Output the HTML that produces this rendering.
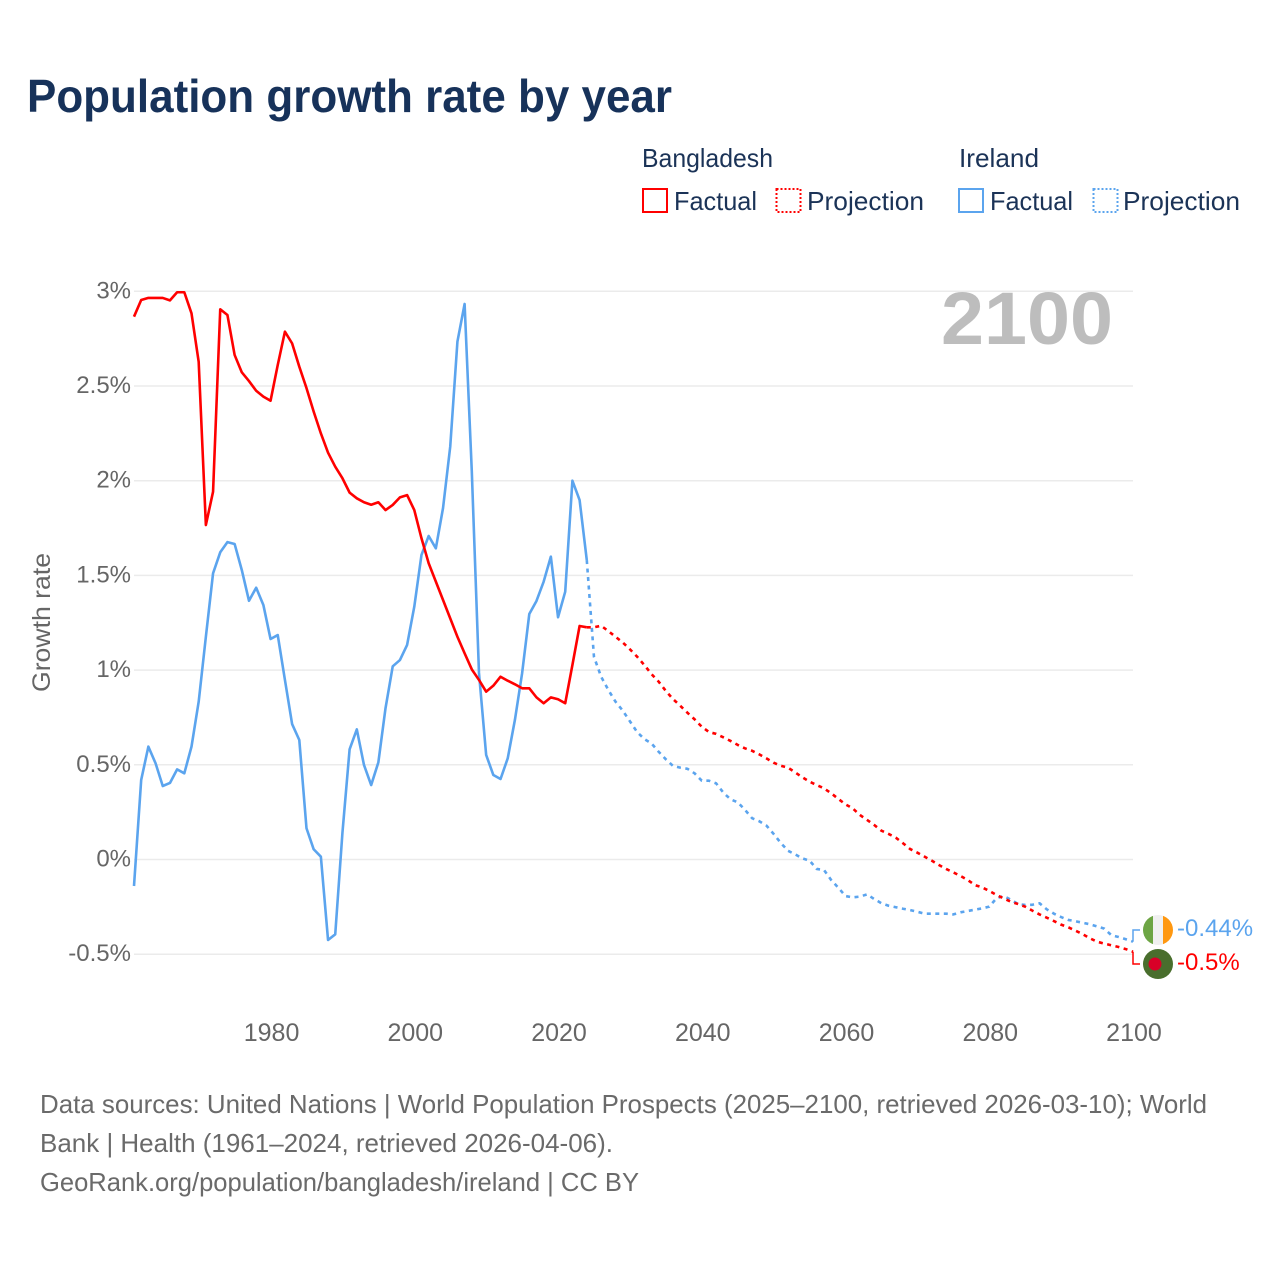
<!DOCTYPE html>
<html lang="en">
<head>
<meta charset="utf-8">
<title>Population growth rate by year</title>
<style>
html,body{margin:0;padding:0;background:#fff;width:1280px;height:1280px;overflow:hidden}
svg{display:block;font-family:"Liberation Sans",sans-serif}
</style>
</head>
<body>
<svg id="chart" width="1280" height="1280" viewBox="0 0 1280 1280" xmlns="http://www.w3.org/2000/svg">
  <rect width="1280" height="1280" fill="#fff"/>
  <text x="27" y="112" font-size="46" font-weight="700" fill="#17325a" textLength="645" lengthAdjust="spacingAndGlyphs">Population growth rate by year</text>

  <g font-size="26" fill="#1b3357">
    <text x="642" y="167" textLength="131" lengthAdjust="spacingAndGlyphs">Bangladesh</text>
    <rect x="643" y="189" width="24" height="23" fill="none" stroke="#ff0000" stroke-width="2"/>
    <text x="674" y="210" textLength="83" lengthAdjust="spacingAndGlyphs">Factual</text>
    <rect x="776.5" y="189" width="24" height="23" fill="none" stroke="#ff0000" stroke-width="2" stroke-dasharray="2 2"/>
    <text x="807" y="210" textLength="117" lengthAdjust="spacingAndGlyphs">Projection</text>
    <text x="959" y="167" textLength="80" lengthAdjust="spacingAndGlyphs">Ireland</text>
    <rect x="959" y="189" width="24" height="23" fill="none" stroke="#5ba4ee" stroke-width="2"/>
    <text x="990" y="210" textLength="83" lengthAdjust="spacingAndGlyphs">Factual</text>
    <rect x="1093.5" y="189" width="24" height="23" fill="none" stroke="#5ba4ee" stroke-width="2" stroke-dasharray="2 2"/>
    <text x="1123" y="210" textLength="117" lengthAdjust="spacingAndGlyphs">Projection</text>
  </g>

  <g id="grid"></g>
  <g id="yticks"></g>
  <g id="xticks"></g>
  <text transform="translate(50,692) rotate(-90)" font-size="25" fill="#666666" textLength="139" lengthAdjust="spacingAndGlyphs">Growth rate</text>
  <text x="941" y="344" font-size="74" font-weight="700" fill="#bdbdbd" textLength="172" lengthAdjust="spacingAndGlyphs">2100</text>
  <g id="series"></g>

  <g>
    <clipPath id="ie-clip"><circle cx="1158" cy="930" r="15"/></clipPath>
    <g clip-path="url(#ie-clip)">
      <rect x="1143" y="915" width="10" height="30" fill="#6da544"/>
      <rect x="1153" y="915" width="10" height="30" fill="#f0f0f0"/>
      <rect x="1163" y="915" width="10" height="30" fill="#ff9811"/>
    </g>
  </g>
  <g>
    <circle cx="1158" cy="964" r="15" fill="#496e2d"/>
    <circle cx="1155" cy="964" r="6.5" fill="#d80027"/>
  </g>
  <g id="endlabels"></g>

  <g font-size="26" fill="#6a6a6a">
    <text x="40" y="1113" textLength="1167" lengthAdjust="spacingAndGlyphs">Data sources: United Nations | World Population Prospects (2025–2100, retrieved 2026-03-10); World</text>
    <text x="40" y="1152" textLength="573" lengthAdjust="spacingAndGlyphs">Bank | Health (1961–2024, retrieved 2026-04-06).</text>
    <text x="40" y="1191" textLength="599" lengthAdjust="spacingAndGlyphs">GeoRank.org/population/bangladesh/ireland | CC BY</text>
  </g>
</svg>
<script>
var factualStartYear = 1961;
var projectionStartYear = 2024;
var yTickValues = [3, 2.5, 2, 1.5, 1, 0.5, 0, -0.5];
var yTickLabels = ["3%", "2.5%", "2%", "1.5%", "1%", "0.5%", "0%", "-0.5%"];
var xTickYears = [1980, 2000, 2020, 2040, 2060, 2080, 2100];
var bangladeshFactual = [2.866,2.954,2.965,2.965,2.965,2.952,2.995,2.995,2.884,2.628,1.766,1.942,2.905,2.875,2.664,2.572,2.526,2.475,2.444,2.422,2.611,2.787,2.725,2.602,2.489,2.365,2.25,2.148,2.074,2.013,1.937,1.907,1.886,1.873,1.886,1.845,1.872,1.912,1.924,1.845,1.696,1.564,1.467,1.37,1.273,1.176,1.089,1.004,0.948,0.886,0.918,0.965,0.944,0.925,0.904,0.904,0.856,0.825,0.856,0.846,0.825,1.027,1.233,1.226];
var bangladeshProjection = [1.226,1.226,1.234,1.206,1.176,1.146,1.11,1.071,1.027,0.979,0.939,0.89,0.847,0.812,0.775,0.74,0.701,0.673,0.663,0.645,0.626,0.605,0.587,0.574,0.555,0.534,0.511,0.495,0.485,0.46,0.434,0.411,0.393,0.376,0.35,0.32,0.291,0.27,0.235,0.209,0.182,0.152,0.135,0.115,0.086,0.055,0.036,0.015,-0.006,-0.029,-0.05,-0.068,-0.087,-0.108,-0.135,-0.147,-0.166,-0.187,-0.205,-0.223,-0.235,-0.249,-0.27,-0.29,-0.307,-0.325,-0.344,-0.358,-0.376,-0.394,-0.416,-0.434,-0.444,-0.453,-0.462,-0.473,-0.487];
var irelandFactual = [-0.14,0.42,0.596,0.508,0.388,0.404,0.476,0.455,0.596,0.833,1.176,1.511,1.622,1.676,1.666,1.528,1.366,1.435,1.344,1.164,1.185,0.948,0.715,0.631,0.165,0.054,0.015,-0.425,-0.395,0.14,0.582,0.687,0.499,0.393,0.513,0.8,1.02,1.053,1.133,1.335,1.608,1.708,1.643,1.856,2.18,2.734,2.933,2.05,0.985,0.552,0.446,0.425,0.534,0.737,0.983,1.296,1.365,1.467,1.599,1.279,1.414,2.0,1.898,1.581];
var irelandProjection = [1.581,1.07,0.965,0.895,0.833,0.786,0.73,0.673,0.636,0.613,0.569,0.529,0.494,0.485,0.479,0.455,0.416,0.416,0.402,0.353,0.318,0.302,0.263,0.218,0.202,0.179,0.135,0.087,0.046,0.027,0.006,-0.006,-0.05,-0.055,-0.108,-0.149,-0.193,-0.2,-0.196,-0.184,-0.209,-0.231,-0.244,-0.252,-0.26,-0.267,-0.276,-0.286,-0.286,-0.286,-0.286,-0.29,-0.279,-0.272,-0.265,-0.258,-0.249,-0.205,-0.193,-0.212,-0.235,-0.24,-0.239,-0.231,-0.263,-0.286,-0.304,-0.319,-0.326,-0.334,-0.342,-0.353,-0.365,-0.4,-0.409,-0.421,-0.434];
var irelandEndLabel = "-0.44%";
var bangladeshEndLabel = "-0.5%";

var NS = "http://www.w3.org/2000/svg";
var RED = "#ff0000";
var BLUE = "#5ba4ee";

function xScale(year) { return 134 + 7.187 * (year - 1961); }
function yScale(v) { return 859.5 - 189.4 * v; }
function pointsFor(values, startYear) {
  return values.map(function (v, i) {
    return xScale(startYear + i).toFixed(2) + "," + yScale(v).toFixed(2);
  }).join(" ");
}

var gridGroup = document.getElementById("grid");
var yTickGroup = document.getElementById("yticks");
var xTickGroup = document.getElementById("xticks");
var seriesGroup = document.getElementById("series");
var endGroup = document.getElementById("endlabels");

yTickValues.forEach(function (v, i) {
  var line = document.createElementNS(NS, "line");
  
  
  line.setAttribute("x1", 134);
  line.setAttribute("x2", 1133);
  line.setAttribute("y1", yScale(v));
  line.setAttribute("y2", yScale(v));
  line.setAttribute("stroke", "#ebebeb");
  line.setAttribute("stroke-width", 1.5);
  gridGroup.appendChild(line);

  var label = document.createElementNS(NS, "text");
  
  
  label.setAttribute("x", 131);
  label.setAttribute("y", yScale(v) + 7);
  label.setAttribute("text-anchor", "end");
  label.setAttribute("font-size", 24);
  label.setAttribute("fill", "#666666");
  label.textContent = yTickLabels[i];
  yTickGroup.appendChild(label);
});

xTickYears.forEach(function (year) {
  var label = document.createElementNS(NS, "text");
  
  
  label.setAttribute("x", xScale(year) + 1);
  label.setAttribute("y", 1041);
  label.setAttribute("text-anchor", "middle");
  label.setAttribute("font-size", 25);
  label.setAttribute("fill", "#666666");
  label.textContent = String(year);
  xTickGroup.appendChild(label);
});

function addLine(values, startYear, color, dashed, name) {
  var line = document.createElementNS(NS, "polyline");
  
  
  line.setAttribute("points", pointsFor(values, startYear));
  line.setAttribute("fill", "none");
  line.setAttribute("stroke", color);
  line.setAttribute("stroke-width", 2.6);
  line.setAttribute("stroke-linejoin", "round");
  if (dashed) { line.setAttribute("stroke-dasharray", "4 4.5"); }
  seriesGroup.appendChild(line);
}

addLine(irelandFactual, factualStartYear, BLUE, false, "ireland-factual-line");
addLine(irelandProjection, projectionStartYear, BLUE, true, "ireland-projection-line");
addLine(bangladeshFactual, factualStartYear, RED, false, "bangladesh-factual-line");
addLine(bangladeshProjection, projectionStartYear, RED, true, "bangladesh-projection-line");

function addEnd(lastValue, markerY, color, text, lineName, labelName) {
  var path = document.createElementNS(NS, "polyline");
  
  
  path.setAttribute("points", "1133," + yScale(lastValue).toFixed(2) + " 1133," + markerY + " 1140," + markerY);
  path.setAttribute("fill", "none");
  path.setAttribute("stroke", color);
  path.setAttribute("stroke-width", 1.5);
  endGroup.appendChild(path);

  var label = document.createElementNS(NS, "text");
  
  
  label.setAttribute("x", 1177);
  label.setAttribute("y", markerY + 6);
  label.setAttribute("font-size", 24);
  label.setAttribute("fill", color);
  label.textContent = text;
  endGroup.appendChild(label);
}

addEnd(irelandProjection[irelandProjection.length - 1], 930, BLUE, irelandEndLabel, "ireland-end-connector", "ireland-end-value");
addEnd(bangladeshProjection[bangladeshProjection.length - 1], 964, RED, bangladeshEndLabel, "bangladesh-end-connector", "bangladesh-end-value");
</script>
</body>
</html>
